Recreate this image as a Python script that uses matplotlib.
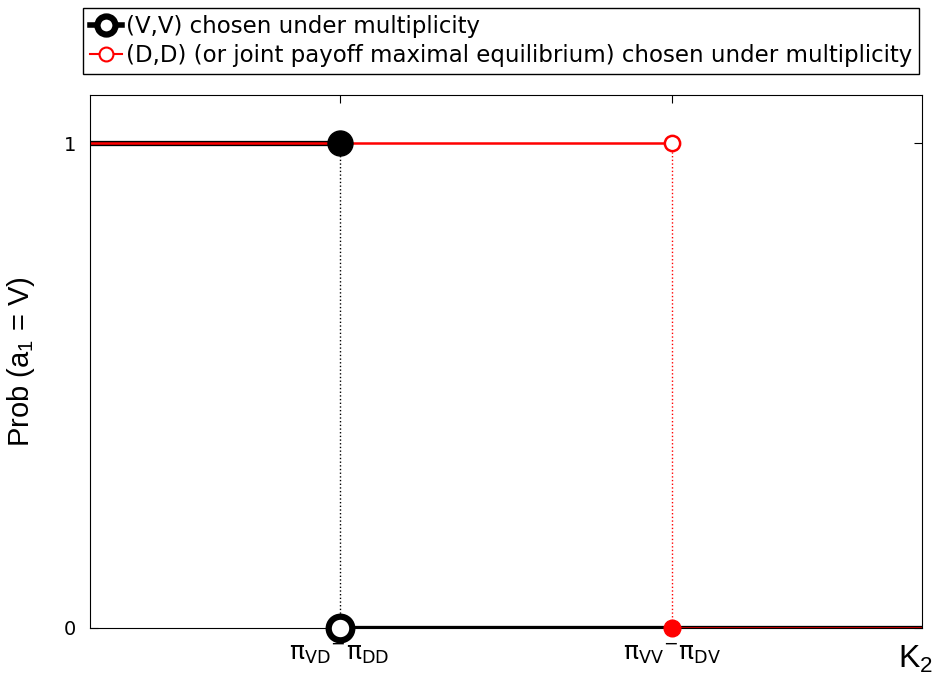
import numpy as np
import matplotlib.pyplot as plt
from matplotlib.lines import Line2D

# thresholds on K_2
thresholds = [0.3, 0.7]
xtick_labels = [r'$\pi_{VD}{}^{-}\pi_{DD}$', r'$\pi_{VV}{}^{-}\pi_{DV}$']
# (V,V) chosen under multiplicity
vv_hi_x = [0.0, 0.3]
vv_hi_y = [1, 1]
vv_lo_x = [0.3, 1.0]
vv_lo_y = [0, 0]
# (D,D) chosen under multiplicity
dd_hi_x = [0.0, 0.7]
dd_hi_y = [1, 1]
dd_lo_x = [0.7, 1.0]
dd_lo_y = [0, 0]
legend_labels = ['(V,V) chosen under multiplicity',
                 '(D,D) (or joint payoff maximal equilibrium) chosen under multiplicity']

plt.rcParams['mathtext.default'] = 'regular'
plt.rcParams['mathtext.fontset'] = 'custom'
plt.rcParams['mathtext.rm'] = 'Liberation Sans'
fig = plt.figure(figsize=(9.35, 6.98), dpi=100)
ax = fig.add_axes([0.0963, 0.1003, 0.8898, 0.7636])

# dotted verticals
ax.plot([thresholds[0]] * 2, [0, 1], ':', color='black', lw=1)
ax.plot([thresholds[1]] * 2, [0, 1], ':', color='red', lw=1)

ax.plot(vv_hi_x, vv_hi_y, color='black', lw=3.8)
ax.plot(vv_lo_x, vv_lo_y, color='black', lw=3.8)
ax.plot(dd_hi_x, dd_hi_y, color='red', lw=1.8)
ax.plot(dd_lo_x, dd_lo_y, color='red', lw=1.8)

ax.plot(vv_hi_x[1], vv_hi_y[1], 'o', color='black', ms=18, zorder=5)
ax.plot(vv_lo_x[0], vv_lo_y[0], 'o', mfc='white', mec='black', mew=4.5, ms=17, zorder=5, clip_on=False)
ax.plot(dd_hi_x[1], dd_hi_y[1], 'o', mfc='white', mec='red', mew=1.8, ms=11, zorder=5)
ax.plot(dd_lo_x[0], dd_lo_y[0], 'o', color='red', ms=12, zorder=5, clip_on=False)

ax.set_xlim(0, 1)
ax.set_ylim(0, 1.1)
ax.set_xticks(thresholds)
ax.set_xticklabels(xtick_labels, fontsize=18)
ax.set_yticks([0, 1])
ax.set_yticklabels(['0', '1'], fontsize=14, family='DejaVu Sans')
ax.tick_params(direction='in', top=True, right=True, length=6)
ax.tick_params(axis='y', pad=10)
ax.tick_params(axis='x', pad=10)

ax.set_ylabel(r'Prob (a$_1$ = V)', fontsize=21, family='Liberation Sans')
ax.yaxis.set_label_coords(-0.064, 0.5)
ax.set_xlabel(r'K$_2$', fontsize=23, family='Liberation Sans')
ax.xaxis.set_label_coords(0.992, -0.03)
ax.xaxis.label.set_va('top')

handles = [Line2D([], [], color='black', lw=4, marker='o', mfc='white', mec='black', mew=4.5, ms=13),
           Line2D([], [], color='red', lw=1.5, marker='o', mfc='white', mec='red', mew=1.5, ms=10)]
fig.legend(handles, legend_labels, loc='upper left', bbox_to_anchor=(0.089, 0.989),
           prop={'family': 'DejaVu Sans', 'size': 16.5},
           frameon=True, fancybox=False, edgecolor='black', framealpha=1,
           handlelength=1.4, handletextpad=0.15, borderpad=0.3, labelspacing=0.3,
           borderaxespad=0)

fig.savefig('out.png', dpi=100)
